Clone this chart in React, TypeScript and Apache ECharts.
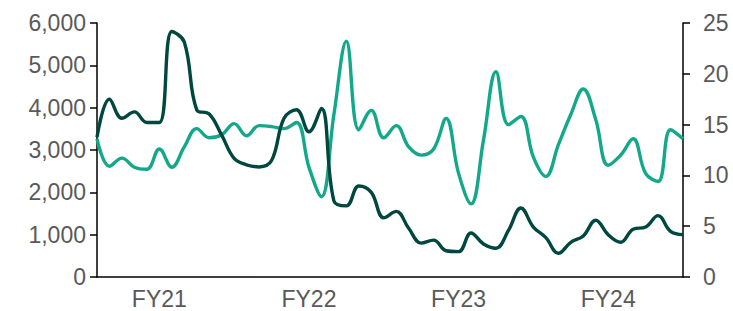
import React, { useEffect, useRef } from "react";
import * as echarts from "echarts";

const months: string[] = [
  "Jul-20","Aug-20","Sep-20","Oct-20","Nov-20","Dec-20","Jan-21","Feb-21","Mar-21","Apr-21","May-21","Jun-21",
  "Jul-21","Aug-21","Sep-21","Oct-21","Nov-21","Dec-21","Jan-22","Feb-22","Mar-22","Apr-22","May-22","Jun-22",
  "Jul-22","Aug-22","Sep-22","Oct-22","Nov-22","Dec-22","Jan-23","Feb-23","Mar-23","Apr-23","May-23","Jun-23",
  "Jul-23","Aug-23","Sep-23","Oct-23","Nov-23","Dec-23","Jan-24","Feb-24","Mar-24","Apr-24","May-24","Jun-24",
];

const fyLabels: string[] = ["FY21", "FY22", "FY23", "FY24"];
const fyLabelOffset = 5; // month index within each FY where the label sits

const darkSeries: number[] = [
  3300, 4200, 3750, 3900, 3650, 3650, 5800, 5550, 3950, 3850, 3350, 2800,
  2650, 2600, 2750, 3750, 3950, 3430, 3980, 1800, 1680, 2150, 2000, 1400,
  1550, 1150, 800, 870, 620, 600, 1040, 780, 680, 1100, 1630, 1180,
  930, 560, 820, 970, 1340, 1000, 820, 1130, 1180, 1450, 1080, 1000,
];

const tealSeries: number[] = [
  13.6, 10.9, 11.7, 10.8, 10.6, 12.6, 10.8, 12.8, 14.6, 13.7, 14.0, 15.1,
  13.9, 14.9, 14.8, 14.6, 15.2, 10.8, 7.9, 16.0, 23.2, 14.5, 16.4, 13.7,
  14.9, 12.8, 12.0, 12.6, 15.6, 10.2, 7.2, 13.5, 20.2, 15.0, 15.8, 11.8,
  9.9, 13.0, 16.0, 18.5, 15.5, 11.0, 12.0, 13.6, 10.2, 9.4, 14.5, 13.6,
];

const leftTicks = { min: 0, max: 6000, interval: 1000 };
const rightTicks = { min: 0, max: 25, interval: 5 };

const FONT = "'Liberation Sans', Arial, sans-serif";
const LABEL_COLOR = "#595959";
const DARK = "#00483F";
const TEAL = "#14A88B";
const FS = 23;

export default function App() {
  const ref = useRef<HTMLDivElement>(null);

  useEffect(() => {
    if (!ref.current) return;
    const chart = echarts.init(ref.current, undefined, { renderer: "svg" });
    const isLabelIdx = (i: number) => i >= fyLabelOffset && (i - fyLabelOffset) % 12 === 0;
    chart.setOption({
      animation: false,
      grid: { left: 97, right: 50, top: 23, bottom: 34 },
      xAxis: {
        type: "category",
        data: months,
        boundaryGap: false,
        axisLine: { lineStyle: { color: "#000", width: 1.5 } },
        axisTick: { show: false },
        axisLabel: {
          interval: (i: number) => isLabelIdx(i),
          formatter: (_v: string, i: number) =>
            isLabelIdx(i) ? fyLabels[(i - fyLabelOffset) / 12] : "",
          color: LABEL_COLOR,
          fontSize: FS,
          fontFamily: FONT,
          margin: 10,
        },
        splitLine: { show: false },
      },
      yAxis: [
        {
          type: "value",
          position: "left",
          min: leftTicks.min,
          max: leftTicks.max,
          interval: leftTicks.interval,
          axisLine: { show: true, lineStyle: { color: "#000", width: 1.5 } },
          axisTick: { show: true, length: 7, lineStyle: { color: "#000", width: 1.5 } },
          axisLabel: {
            formatter: (v: number) => v.toLocaleString("en-US"),
            color: LABEL_COLOR,
            fontSize: FS,
            fontFamily: FONT,
            margin: 11,
          },
          splitLine: { show: false },
        },
        {
          type: "value",
          position: "right",
          min: rightTicks.min,
          max: rightTicks.max,
          interval: rightTicks.interval,
          axisLine: { show: true, lineStyle: { color: "#000", width: 1.5 } },
          axisTick: { show: true, length: 7, lineStyle: { color: "#000", width: 1.5 } },
          axisLabel: {
            color: LABEL_COLOR,
            fontSize: FS,
            fontFamily: FONT,
            margin: 20,
          },
          splitLine: { show: false },
        },
      ],
      series: [
        {
          type: "line",
          yAxisIndex: 1,
          data: tealSeries,
          smooth: 0.4,
          showSymbol: false,
          lineStyle: { color: TEAL, width: 3.4 },
          itemStyle: { color: TEAL },
        },
        {
          type: "line",
          yAxisIndex: 0,
          data: darkSeries,
          smooth: 0.4,
          showSymbol: false,
          lineStyle: { color: DARK, width: 3.4 },
          itemStyle: { color: DARK },
        },
      ],
    });
    return () => chart.dispose();
  }, []);

  return (
    <div
      ref={ref}
      style={{ position: "fixed", left: 0, top: 0, width: 733, height: 311, background: "#fff" }}
    />
  );
}
